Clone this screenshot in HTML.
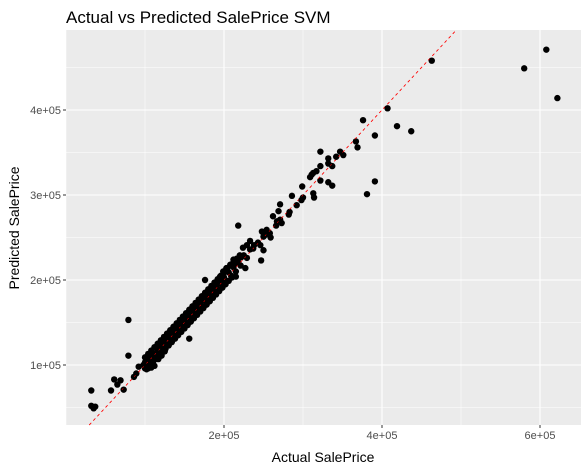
<!DOCTYPE html>
<html><head><meta charset="utf-8"><style>
body{margin:0;background:#fff}
svg{display:block;font-family:"Liberation Sans",Arial,sans-serif}
</style></head><body>
<svg id="chart" width="588" height="472">
<rect x="0" y="0" width="588" height="472" fill="#fff"/>
<text x="66" y="23" font-size="17" fill="#000">Actual vs Predicted SalePrice SVM</text>
<rect x="66" y="30" width="515" height="395" fill="#ebebeb"/>
<g id="grid"></g>
<g id="refline"></g>
<g id="points"></g>
<g id="axes"></g>
<text x="323" y="462" font-size="14" text-anchor="middle" fill="#000">Actual SalePrice</text>
<text transform="translate(19,228) rotate(-90)" font-size="14" text-anchor="middle" fill="#000">Predicted SalePrice</text>
</svg>
<script>
const actual = [463,580,608,622,407,376,419,437,391,367,369,322,347,351,342,332,332,337,322,317,313,311,309,322,332,337,391,381,299,286,300,298,313,314,271,292,
262,269,282,283,267,271,273,266,218,248,254,252,258,250,259,233,229,224,237,246,250,247,212,216,208,222,227,215,203,199,195,176,79,79,156,
32,32,37,35,61,57,65,73,69,86,89,92,100,98,
100,102,104,106,108,110,112,114,116,118,120,122,124,126,128,130,132,134,136,138,140,142,144,146,148,150,152,154,156,158,160,162,164,166,168,170,172,174,176,178,180,182,184,186,188,190,192,194,196,198,200,203,206,209,212,215,218,221,225,229,233,238,243,117,121,125,108,112,104,140,150,160,170,180,190,130,120,110,155,165,175,185,195,145,135,125,115,105,
100,104,108,112,116,120,124,128,132,136,140,144,148,152,156,160,164,168,172,176,180,184,188,192,196,200,204,208,212,216,220,
102,106,110,114,118,122,126,130,134,138,142,146,150,154,158,162,166,170,174,178,182,186,190,194,198,202,206,210];
const predicted = [458,449,471,414,402,388,381,375,370,363,356,351,351,347,345,343,337,334,334,328,326,324,321,317,315,311,316,301,310,299,297,294,302,297,289,288,
275,281,277,280,269,271,267,264,264,257,259,253,255,251,250,246,241,238,237,241,235,223,224,220,218,227,214,204,214,210,204,200,153,111,131,
70,52,51,49,83,70,77,71,82,86,90,98,96,100,
103,98,106,101,110,104,113,108,118,112,122,117,126,121,130,124,134,129,139,133,143,137,147,141,151,145,155,149,159,153,163,157,168,161,171,165,176,169,180,173,184,177,188,181,192,185,196,189,199,193,203,199,209,205,215,210,221,217,229,226,236,241,244,107,111,116,97,99,96,138,152,160,171,181,191,131,119,109,150,166,177,186,197,146,135,124,114,105,
109,113,117,121,125,129,133,137,141,145,149,153,157,161,165,169,173,177,181,185,189,193,197,201,205,209,213,217,221,225,229,
95,99,103,107,111,115,119,123,127,131,135,139,143,147,151,155,159,163,167,171,175,179,183,187,191,195,199,203];
const xTicks = [200,400,600];
const xTickLabels = ["2e+05","4e+05","6e+05"];
const yTicks = [100,200,300,400];
const yTickLabels = ["1e+05","2e+05","3e+05","4e+05"];
const xMinor = [0,100,300,500];
const yMinor = [50,150,250,350,450];

const NS="http://www.w3.org/2000/svg";
const L=66,R=581,T=30,B=425;
function sx(v){return 66+v*0.79;}
function sy(v){return 365-(v-100)*0.85;}
function mk(tag,attrs,parent){const e=document.createElementNS(NS,tag);for(const k in attrs)e.setAttribute(k,attrs[k]);parent.appendChild(e);return e;}
const grid=document.getElementById('grid');
xMinor.forEach(v=>{const x=sx(v);if(x<L||x>R)return;
 const l=mk('line',{x1:x,x2:x,y1:T,y2:B,stroke:'#fff','stroke-width':0.55},grid);
 
 });
yMinor.forEach(v=>{const y=sy(v);if(y<T||y>B)return;
 const l=mk('line',{x1:L,x2:R,y1:y,y2:y,stroke:'#fff','stroke-width':0.55},grid);
 
 });
xTicks.forEach(v=>{const x=sx(v);
 const l=mk('line',{x1:x,x2:x,y1:T,y2:B,stroke:'#fff','stroke-width':1.1},grid);
 
 });
yTicks.forEach(v=>{const y=sy(v);
 const l=mk('line',{x1:L,x2:R,y1:y,y2:y,stroke:'#fff','stroke-width':1.1},grid);
 
 });
const lo=Math.max(0,(365-B)/0.85+100), hi=(365-T)/0.85+100;
const rl=mk('line',{x1:sx(lo),y1:sy(lo),x2:sx(hi),y2:sy(hi),stroke:'#ff0000','stroke-width':0.8,'stroke-dasharray':'3,3'},document.getElementById('refline'));


const pts=document.getElementById('points');
actual.forEach((a,i)=>{
 const c=mk('circle',{cx:sx(a),cy:sy(predicted[i]),r:3.2,fill:'#000'},pts);
 
 
});
// re-draw reference line on top faintly (visible through dense band as in reference)
const rl2=mk('line',{x1:sx(lo),y1:sy(lo),x2:sx(hi),y2:sy(hi),stroke:'#ff0000','stroke-width':0.6,'stroke-dasharray':'2,4'},document.getElementById('points'));


const ax=document.getElementById('axes');
xTicks.forEach((v,i)=>{const x=sx(v);
 const t=mk('line',{x1:x,x2:x,y1:B,y2:B+3,stroke:'#333','stroke-width':1},ax);
 
 
 const tx=mk('text',{x:x,y:B+14,'font-size':11,'text-anchor':'middle',fill:'#4d4d4d'},ax);
 tx.textContent=xTickLabels[i];
 
 });
yTicks.forEach((v,i)=>{const y=sy(v);
 const t=mk('line',{x1:L-3,x2:L,y1:y,y2:y,stroke:'#333','stroke-width':1},ax);
 
 
 const tx=mk('text',{x:L-5,y:y+4,'font-size':11,'text-anchor':'end',fill:'#4d4d4d'},ax);
 tx.textContent=yTickLabels[i];
 
 });
</script>
</body></html>
